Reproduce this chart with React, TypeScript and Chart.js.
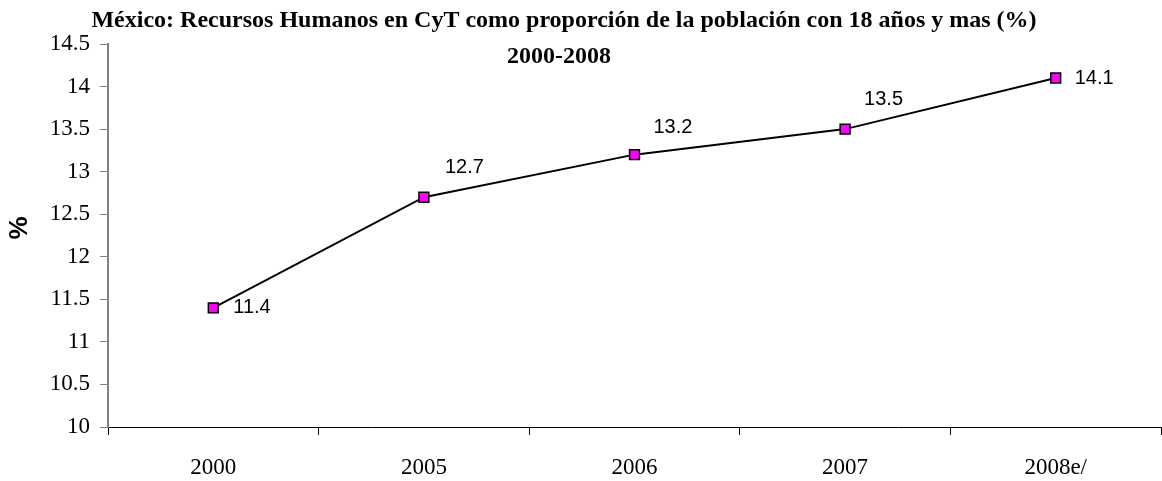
import React, { useEffect, useRef } from "react";
import { Chart, registerables } from "chart.js";

Chart.register(...registerables);

const categories = ["2000", "2005", "2006", "2007", "2008e/"];
const values = [11.4, 12.7, 13.2, 13.5, 14.1];
const yTicks = [10, 10.5, 11, 11.5, 12, 12.5, 13, 13.5, 14, 14.5];
const titleLine1 = "México: Recursos Humanos en CyT como proporción de la población con 18 años y mas (%)";
const titleLine2 = "2000-2008";
const yTitle = "%";
// label offsets relative to each point (dx, dy)
const labelOffsets: [number, number][] = [
  [20, 0],
  [21, -30],
  [19, -27],
  [19, -30],
  [19, 0],
];

const SERIF = "'Times New Roman', 'Liberation Serif', serif";
const SANS = "Arial, 'Liberation Sans', sans-serif";

const overlay = {
  id: "overlay",
  afterDraw(chart: any) {
    const ctx = chart.ctx;
    ctx.save();
    // title
    ctx.fillStyle = "#000";
    ctx.font = `bold 24px ${SERIF}`;
    ctx.textAlign = "center";
    ctx.textBaseline = "middle";
    ctx.fillText(titleLine1, 564, 21);
    ctx.fillText(titleLine2, 559, 57);
    // y title
    ctx.save();
    ctx.translate(20, 228);
    ctx.rotate(-Math.PI / 2);
    ctx.font = `bold 26px ${SANS}`;
    ctx.fillText(yTitle, 0, 0);
    ctx.restore();
    // data labels
    const meta = chart.getDatasetMeta(0);
    ctx.font = `20px ${SANS}`;
    ctx.textAlign = "left";
    ctx.textBaseline = "middle";
    meta.data.forEach((pt: any, i: number) => {
      const [dx, dy] = labelOffsets[i];
      ctx.fillText(String(values[i]), pt.x + dx, pt.y + dy);
    });
    ctx.restore();
  },
};

export default function App() {
  const ref = useRef<HTMLCanvasElement | null>(null);
  useEffect(() => {
    document.body.style.margin = "0";
    const canvas = ref.current!;
    const chart = new Chart(canvas, {
      type: "line",
      data: {
        labels: categories,
        datasets: [
          {
            data: values,
            borderColor: "#000000",
            borderWidth: 2,
            pointStyle: "rect",
            pointRadius: 7,
            pointBackgroundColor: "#FF00FF",
            pointBorderColor: "#000000",
            pointBorderWidth: 1.5,
            tension: 0,
          },
        ],
      },
      options: {
        responsive: false,
        animation: false,
        events: [],
        layout: { autoPadding: false, padding: { top: 44, right: 1, left: 0, bottom: 0 } },
        plugins: {
          legend: { display: false },
          title: { display: false },
          tooltip: { enabled: false },
        },
        scales: {
          x: {
            type: "category",
            offset: true,
            grid: {
              offset: true,
              drawOnChartArea: false,
              drawTicks: true,
              tickLength: 8,
              color: "#000",
            },
            border: { display: true, color: "#000", width: 1 },
            ticks: {
              color: "#000",
              font: { family: SERIF, size: 23 },
              padding: 19,
              maxRotation: 0,
              autoSkip: false,
            },
            afterFit: (s: any) => {
              s.height = 54;
              s.paddingLeft = 0;
              s.paddingRight = 0;
            },
          },
          y: {
            min: 10,
            max: 14.5,
            afterBuildTicks: (s: any) => {
              s.ticks = yTicks.map((v) => ({ value: v }));
            },
            grid: {
              drawOnChartArea: false,
              drawTicks: true,
              tickLength: 8,
              color: "#808080",
            },
            border: { display: true, color: "#808080", width: 2 },
            ticks: {
              color: "#000",
              font: { family: SERIF, size: 23 },
              padding: 10,
              callback: (v: any) => String(v),
            },
            afterFit: (s: any) => {
              s.width = 108;
              s.paddingTop = 0;
              s.paddingBottom = 0;
            },
          },
        },
      },
      plugins: [overlay],
    });
    return () => chart.destroy();
  }, []);
  return (
    <div style={{ width: 1162, height: 481 }}>
      <canvas ref={ref} width={1162} height={481} style={{ display: "block" }} />
    </div>
  );
}
